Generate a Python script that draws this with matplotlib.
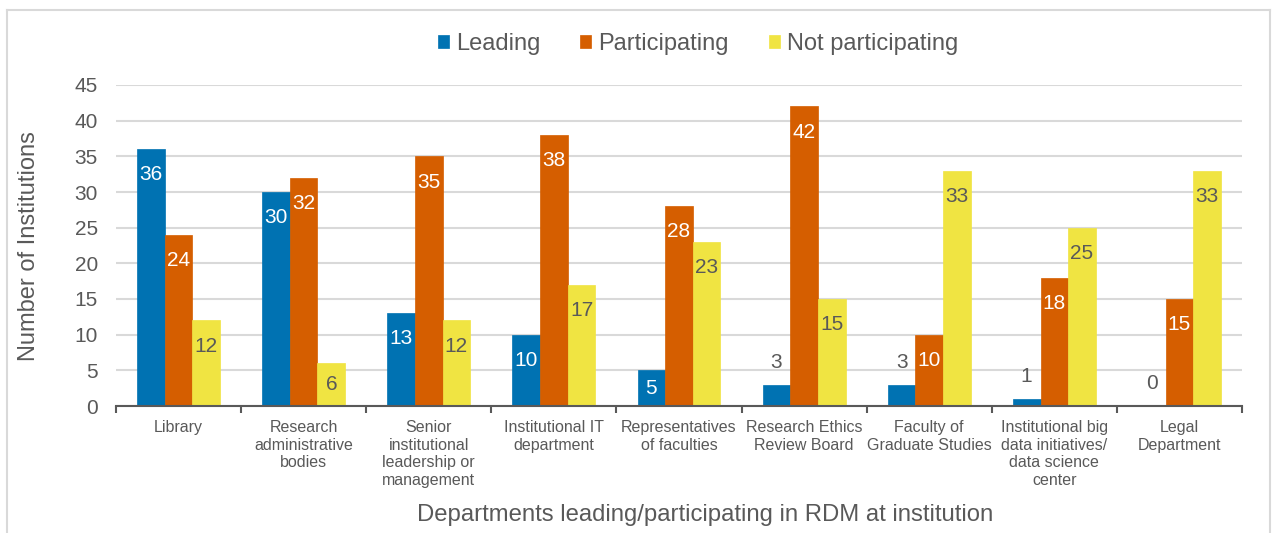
import matplotlib
matplotlib.use("Agg")
import matplotlib.pyplot as plt
from matplotlib.lines import Line2D
import numpy as np

plt.rcParams['font.family'] = ['Liberation Sans', 'DejaVu Sans']

categories = ["Library", "Research\nadministrative\nbodies", "Senior\ninstitutional\nleadership or\nmanagement",
              "Institutional IT\ndepartment", "Representatives\nof faculties", "Research Ethics\nReview Board",
              "Faculty of\nGraduate Studies", "Institutional big\ndata initiatives/\ndata science\ncenter",
              "Legal\nDepartment"]
series_names = ["Leading", "Participating", "Not participating"]
leading = [36, 30, 13, 10, 5, 3, 3, 1, 0]
participating = [24, 32, 35, 38, 28, 42, 10, 18, 15]
not_participating = [12, 6, 12, 17, 23, 15, 33, 25, 33]
yticks = [0, 5, 10, 15, 20, 25, 30, 35, 40, 45]

colors = ["#0072B2", "#D55E00", "#F0E442"]
label_colors = ["white", "white", "#595959"]
text_grey = "#595959"

W, H = 1273, 533
fig = plt.figure(figsize=(W / 100, H / 100), dpi=100)
ax = fig.add_axes([116 / W, 1 - 406 / H, (1242 - 116) / W, (406 - 85) / H])

x = np.arange(len(categories))
bw = 0.221
all_series = [leading, participating, not_participating]
for i, (vals, name) in enumerate(zip(all_series, series_names)):
    xs = x + (i - 1) * bw
    ax.bar(xs, vals, width=bw, color=colors[i], label=name, zorder=3,
           edgecolor=colors[i], linewidth=0.5)
    for xi, v in zip(xs, vals):
        if v >= 4:
            y = max(v - 3.6, v / 2)
            c = label_colors[i]
        else:
            y = v + 3.1
            c = text_grey
        ax.text(xi, y, str(v), ha="center", va="center", fontsize=15, color=c, zorder=4)

ax.set_xlim(-0.5, len(categories) - 0.5)
ax.set_ylim(0, 45)
ax.set_yticks(yticks)
ax.set_yticklabels([str(t) for t in yticks], fontsize=15, color=text_grey)
ax.tick_params(axis="y", length=0, pad=13)
ax.yaxis.grid(True, color="#d9d9d9", linewidth=1.5, zorder=0)
ax.set_axisbelow(True)

ax.set_xticks(np.arange(len(categories) + 1) - 0.5)
ax.set_xticklabels([])
ax.tick_params(axis="x", which="major", length=5, width=1.5, color="#595959", direction="out")
ax.set_xticks(x, minor=True)
ax.set_xticklabels(categories, minor=True, fontsize=11.5, color=text_grey, linespacing=1.22)
ax.tick_params(axis="x", which="minor", length=0, pad=10)

for s in ["top", "right", "left"]:
    ax.spines[s].set_visible(False)
ax.spines["bottom"].set_color("#595959")
ax.spines["bottom"].set_linewidth(1.5)
ax.spines["bottom"].set_zorder(5)

ax.set_ylabel("Number of Institutions", fontsize=17, color=text_grey)
ax.yaxis.set_label_coords((40 - 116) / (1242 - 116), (406 - 246) / (406 - 85))

fig.text(705 / W, 1 - 515 / H, "Departments leading/participating in RDM at institution",
         ha="center", va="center", fontsize=17.2, color=text_grey)

leg = fig.legend(loc="center", bbox_to_anchor=(698 / W, 1 - 44 / H), ncol=3, frameon=False,
                 fontsize=17, handlelength=0.47, handleheight=0.47, handletextpad=0.3,
                 columnspacing=1.7, labelcolor=text_grey)

# outer chart border
bc = "#d9d9d9"
fig.add_artist(Line2D([7 / W, 7 / W], [0, 1 - 10 / H], color=bc, lw=1.5, transform=fig.transFigure))
fig.add_artist(Line2D([1270 / W, 1270 / W], [0, 1 - 10 / H], color=bc, lw=1.5, transform=fig.transFigure))
fig.add_artist(Line2D([7 / W, 1270 / W], [1 - 10 / H, 1 - 10 / H], color=bc, lw=1.5, transform=fig.transFigure))

fig.savefig("out.png", dpi=100, facecolor="white")
